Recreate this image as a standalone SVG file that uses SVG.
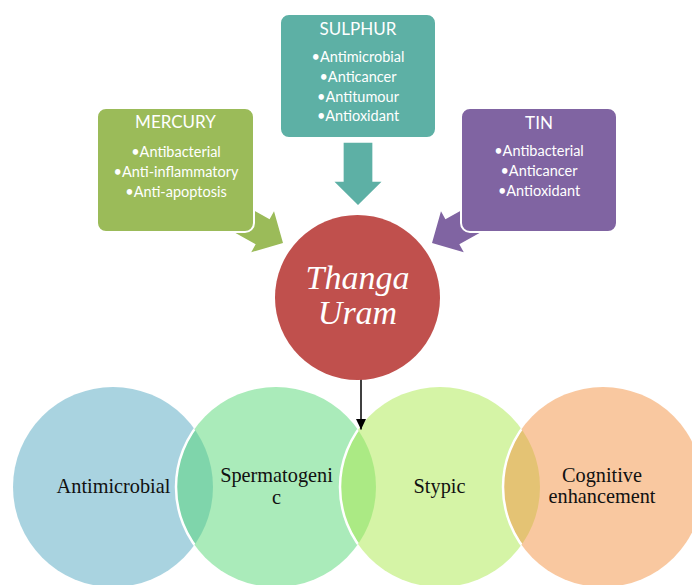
<svg xmlns="http://www.w3.org/2000/svg" width="692" height="585" viewBox="0 0 692 585">
<defs>
<style>
.box{stroke:#fff;stroke-width:2}
.ttl{font-family:Lato,"Open Sans","DejaVu Sans",sans-serif;font-size:17px;fill:#fff;text-anchor:middle}
.bul{font-family:Lato,"Open Sans","DejaVu Sans",sans-serif;font-size:14.5px;fill:#fff;text-anchor:middle}
.lbl{font-family:"Liberation Serif","Times New Roman",serif;font-size:20.3px;fill:#111;text-anchor:middle}
.ctr{font-family:"Liberation Serif","Times New Roman",serif;font-style:italic;font-size:34px;fill:#fff;text-anchor:middle}
.venn{fill-opacity:0.5}
.edge{fill:none;stroke:#fff;stroke-width:2.5}
</style>
<path id="blk" d="M-14.35,-62.3 L14.35,-62.3 L14.35,-23.3 L23.5,-23.3 L0,0 L-23.5,-23.3 L-14.35,-23.3 Z"/>
<marker id="ah" markerUnits="userSpaceOnUse" markerWidth="11" markerHeight="10.6" refX="11" refY="5.3" orient="auto" viewBox="0 0 11 10.6"><path d="M0,0 L11,5.3 L0,10.6 Z" fill="#000"/></marker>
<clipPath id="c1"><circle cx="113" cy="487" r="100"/></clipPath>
<clipPath id="c2"><circle cx="276" cy="487" r="100"/></clipPath>
<clipPath id="c3"><circle cx="440" cy="487" r="100"/></clipPath>
</defs>
<rect width="692" height="585" fill="#fff"/>

<g id="antimicrobial">
<circle class="venn" cx="113" cy="487" r="100" fill="#53A7C1"/>
<text class="lbl" x="113.5" y="493">Antimicrobial</text>
</g>
<g id="spermatogenic">
<circle class="venn" cx="276" cy="487" r="100" fill="#55D775"/>
<circle class="edge" cx="276" cy="487" r="100" clip-path="url(#c1)"/>
<text class="lbl" x="276.5" y="482">Spermatogeni</text>
<text class="lbl" x="276.5" y="503.5">c</text>
</g>
<g id="stypic">
<circle class="venn" cx="440" cy="487" r="100" fill="#ABE94D"/>
<circle class="edge" cx="440" cy="487" r="100" clip-path="url(#c2)"/>
<text class="lbl" x="439.5" y="493">Stypic</text>
</g>
<g id="cognitive">
<circle class="venn" cx="603" cy="487" r="100" fill="#F39141"/>
<circle class="edge" cx="603" cy="487" r="100" clip-path="url(#c3)"/>
<text class="lbl" x="602" y="482">Cognitive</text>
<text class="lbl" x="602" y="503">enhancement</text>
</g>

<g id="connectors">
<use href="#blk" transform="translate(358,205)" fill="#5DB0A5"/>
<use href="#blk" transform="translate(283,243) rotate(-61)" fill="#9BBB59"/>
<use href="#blk" transform="translate(432,243) rotate(61)" fill="#8064A2"/>
<line x1="361" y1="379" x2="361" y2="429.5" stroke="#000" stroke-width="1.5" marker-end="url(#ah)"/>
</g>

<g id="mercury">
<rect class="box" x="97" y="108" width="157" height="124" rx="9" fill="#9BBB59"/>
<text class="ttl" x="175.5" y="128">MERCURY</text>
<text class="bul" x="176" y="157">•Antibacterial</text>
<text class="bul" x="176" y="177">•Anti-inflammatory</text>
<text class="bul" x="176" y="197">•Anti-apoptosis</text>
</g>
<g id="sulphur">
<rect class="box" x="280" y="14" width="156" height="124" rx="9" fill="#5DB0A5"/>
<text class="ttl" x="358" y="35">SULPHUR</text>
<text class="bul" x="358" y="62">•Antimicrobial</text>
<text class="bul" x="358" y="82">•Anticancer</text>
<text class="bul" x="358" y="101.5">•Antitumour</text>
<text class="bul" x="358" y="121">•Antioxidant</text>
</g>
<g id="tin">
<rect class="box" x="461" y="108" width="156" height="124" rx="9" fill="#8064A2"/>
<text class="ttl" x="539" y="129">TIN</text>
<text class="bul" x="539" y="156">•Antibacterial</text>
<text class="bul" x="539" y="176">•Anticancer</text>
<text class="bul" x="539" y="196">•Antioxidant</text>
</g>
<g id="thanga-uram">
<circle cx="357.5" cy="297.5" r="82.5" fill="#C0504D"/>
<text class="ctr" x="357.5" y="289">Thanga</text>
<text class="ctr" x="357.5" y="324">Uram</text>
</g>
</svg>
